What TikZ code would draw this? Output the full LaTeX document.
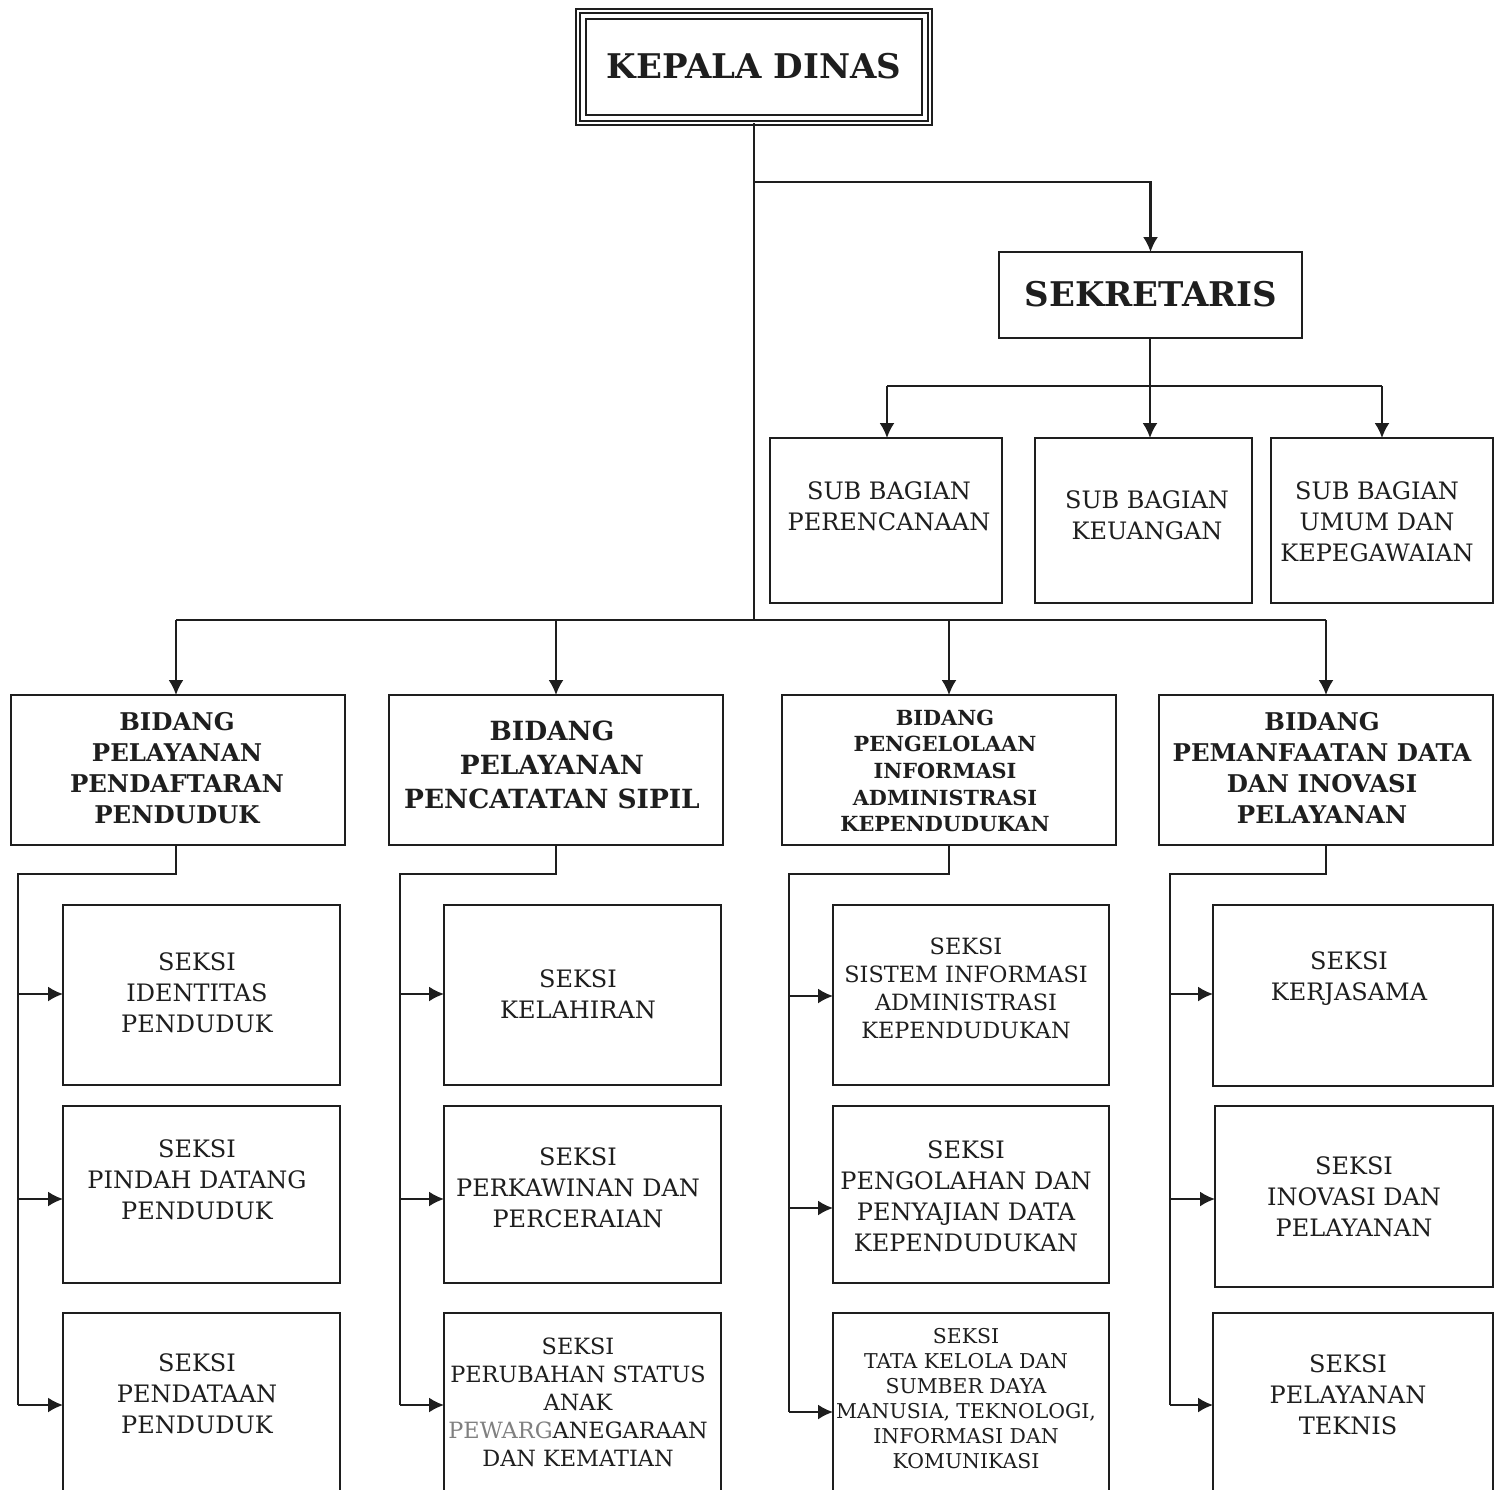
\documentclass[tikz,border=0pt]{standalone}
\usepackage{fontspec}
\setmainfont{DejaVu Serif}
\usetikzlibrary{arrows.meta}
\definecolor{ink}{HTML}{1E1E1E}
\tikzset{
  ln/.style={draw=ink, line width=1.05pt},
  arr/.style={ln, -{Latex[length=7.5pt,width=7.5pt]}},
  bx/.style={draw=ink, line width=1.05pt, inner sep=0pt, outer sep=0pt, rectangle},
  tx/.style={align=center, inner sep=0pt, text=ink},
  nrm/.style={font=\fontsize{12}{15.5}\selectfont},
  sml/.style={font=\fontsize{11.2}{14}\selectfont},
  tny/.style={font=\fontsize{10.2}{12.5}\selectfont},
  bd/.style={font=\bfseries\fontsize{12.2}{15.5}\selectfont},
  bdl/.style={font=\bfseries\fontsize{13.2}{17}\selectfont},
  bds/.style={font=\bfseries\fontsize{10.4}{13.3}\selectfont},
  big/.style={font=\bfseries\fontsize{17}{20}\selectfont},
}
\newcommand\mkbox[5]{\node[bx, minimum width={(#4-#2)*0.5pt}, minimum height={(#5-#3)*0.5pt}] (#1) at ({(#2+#4)/2},{(#3+#5)/2}) {};}
\begin{document}
\begin{tikzpicture}[x=0.5pt,y=-0.5pt]
\useasboundingbox (0,0) rectangle (1502,1489);
\clip (0,0) rectangle (1502,1489);
\fill[white] (0,0) rectangle (1502,1489);

% KEPALA DINAS
\node[bx, double=white, double distance=1.2pt, line width=0.8pt, minimum width={352*0.5pt}, minimum height={112*0.5pt}] (kd) at (754,67) {};
\draw[ln] ([shift={(8,8)}]kd.north west) rectangle ([shift={(-8,-8)}]kd.south east);
\node[tx,big] (kdt) at (754,66) {KEPALA DINAS};

% SEKRETARIS
\mkbox{sek}{999}{252}{1302}{338}
\node[tx,big] (sekt) at (1151,294) {SEKRETARIS};

% Sub bagian
\mkbox{sb1}{770}{438}{1002}{603}
\mkbox{sb2}{1035}{438}{1252}{603}
\mkbox{sb3}{1271}{438}{1493}{603}
\node[tx,nrm] (sb1t) at (889,506) {SUB BAGIAN\\PERENCANAAN};
\node[tx,nrm] (sb2t) at (1147,515) {SUB BAGIAN\\KEUANGAN};
\node[tx,nrm] (sb3t) at (1377,522) {SUB BAGIAN\\UMUM DAN\\KEPEGAWAIAN};

% Bidang
\mkbox{b1}{11}{695}{345}{845}
\mkbox{b2}{389}{695}{723}{845}
\mkbox{b3}{782}{695}{1116}{845}
\mkbox{b4}{1159}{695}{1493}{845}
\node[tx,bd] (b1t) at (177,768) {BIDANG\\PELAYANAN\\PENDAFTARAN\\PENDUDUK};
\node[tx,bdl] (b2t) at (552,765) {BIDANG\\PELAYANAN\\PENCATATAN SIPIL};
\node[tx,bds] (b3t) at (945,771) {BIDANG\\PENGELOLAAN\\INFORMASI\\ADMINISTRASI\\KEPENDUDUKAN};
\node[tx,bd] (b4t) at (1322,768) {BIDANG\\PEMANFAATAN DATA\\DAN INOVASI\\PELAYANAN};

% Seksi column 1
\mkbox{s11}{63}{905}{340}{1085}
\mkbox{s12}{63}{1106}{340}{1283}
\mkbox{s13}{63}{1313}{340}{1500}
\node[tx,nrm] (s11t) at (197,993) {SEKSI\\IDENTITAS\\PENDUDUK};
\node[tx,nrm] (s12t) at (197,1180) {SEKSI\\PINDAH DATANG\\PENDUDUK};
\node[tx,nrm] (s13t) at (197,1394) {SEKSI\\PENDATAAN\\PENDUDUK};

% Seksi column 2
\mkbox{s21}{444}{905}{721}{1085}
\mkbox{s22}{444}{1106}{721}{1283}
\mkbox{s23}{444}{1313}{721}{1500}
\node[tx,nrm] (s21t) at (578,994) {SEKSI\\KELAHIRAN};
\node[tx,nrm] (s22t) at (578,1188) {SEKSI\\PERKAWINAN DAN\\PERCERAIAN};
\node[tx,sml] (s23t) at (578,1402) {SEKSI\\PERUBAHAN STATUS\\ANAK\\{\color{gray}PEWARG}ANEGARAAN\\DAN KEMATIAN};

% Seksi column 3
\mkbox{s31}{833}{905}{1109}{1085}
\mkbox{s32}{833}{1106}{1109}{1283}
\mkbox{s33}{833}{1313}{1109}{1500}
\node[tx,sml] (s31t) at (966,988) {SEKSI\\SISTEM INFORMASI\\ADMINISTRASI\\KEPENDUDUKAN};
\node[tx,nrm] (s32t) at (966,1196) {SEKSI\\PENGOLAHAN DAN\\PENYAJIAN DATA\\KEPENDUDUKAN};
\node[tx,tny] (s33t) at (966,1399) {SEKSI\\TATA KELOLA DAN\\SUMBER DAYA\\MANUSIA, TEKNOLOGI,\\INFORMASI DAN\\KOMUNIKASI};

% Seksi column 4
\mkbox{s41}{1213}{905}{1493}{1086}
\mkbox{s42}{1215}{1106}{1493}{1287}
\mkbox{s43}{1213}{1313}{1493}{1500}
\node[tx,nrm] (s41t) at (1349,979) {SEKSI\\KERJASAMA};
\node[tx,nrm] (s42t) at (1354,1197) {SEKSI\\INOVASI DAN\\PELAYANAN};
\node[tx,nrm] (s43t) at (1348,1395) {SEKSI\\PELAYANAN\\TEKNIS};

% connectors top
\coordinate (j1) at (754,182);
\coordinate (j2) at (754,620);
\draw[ln] (kd.south) -- (j2);
\draw[arr] (j1) -| (sek.north);
\coordinate (j0) at (1150,386);
\coordinate (j3) at (887,386);
\coordinate (j4) at (1382,386);
\draw[arr] (sek.south -| j0) -- (j0 |- sb2.north);
\draw[ln] (j3) -- (j4);
\draw[arr] (j3) -- (j3 |- sb1.north);
\draw[arr] (j4) -- (j4 |- sb3.north);

% bidang connectors
\coordinate (h1) at (176,620);
\coordinate (h4) at (1326,620);
\draw[ln] (h1) -- (h4);
\draw[arr] (h1) -- (h1 |- b1.north);
\draw[arr] (b2.north |- h1) -- (b2.north);
\draw[arr] (b3.north |- h1) -- (b3.north);
\draw[arr] (h4) -- (b4.north);

% column 1 connectors
\coordinate (c1) at (18,874);
\coordinate (a11) at (18,994);
\coordinate (a12) at (18,1199);
\coordinate (a13) at (18,1405);
\draw[ln] (b1.south -| h1) |- (c1) -- (a13);
\draw[arr] (a11) -- (a11 -| s11.west);
\draw[arr] (a12) -- (a12 -| s12.west);
\draw[arr] (a13) -- (a13 -| s13.west);

% column 2 connectors
\coordinate (c2) at (400,874);
\coordinate (a21) at (400,994);
\coordinate (a22) at (400,1199);
\coordinate (a23) at (400,1405);
\draw[ln] (b2.south) |- (c2) -- (a23);
\draw[arr] (a21) -- (a21 -| s21.west);
\draw[arr] (a22) -- (a22 -| s22.west);
\draw[arr] (a23) -- (a23 -| s23.west);

% column 3 connectors
\coordinate (c3) at (789,874);
\coordinate (a31) at (789,996);
\coordinate (a32) at (789,1208);
\coordinate (a33) at (789,1412);
\draw[ln] (b3.south) |- (c3) -- (a33);
\draw[arr] (a31) -- (a31 -| s31.west);
\draw[arr] (a32) -- (a32 -| s32.west);
\draw[arr] (a33) -- (a33 -| s33.west);

% column 4 connectors
\coordinate (c4) at (1170,874);
\coordinate (a41) at (1170,994);
\coordinate (a42) at (1170,1199);
\coordinate (a43) at (1170,1405);
\draw[ln] (b4.south) |- (c4) -- (a43);
\draw[arr] (a41) -- (a41 -| s41.west);
\draw[arr] (a42) -- (a42 -| s42.west);
\draw[arr] (a43) -- (a43 -| s43.west);
\end{tikzpicture}
\end{document}
